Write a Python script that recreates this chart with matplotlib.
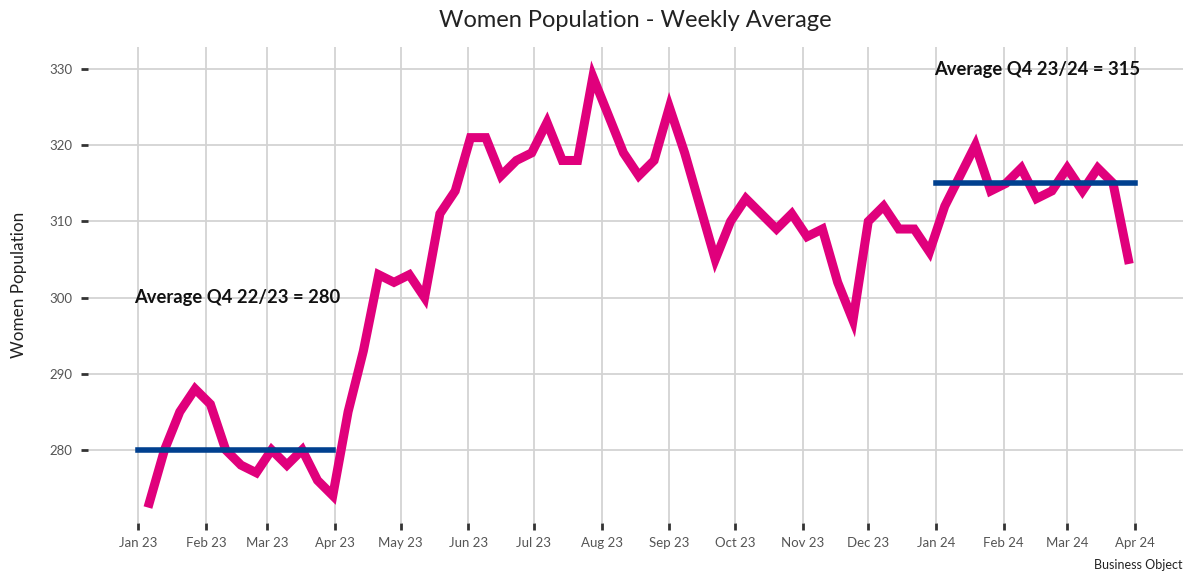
import matplotlib
matplotlib.use("Agg")
import matplotlib.pyplot as plt
import matplotlib.dates as mdates
import numpy as np
import pandas as pd

# ---- data ----
start_date = "2023-01-06"
women_pop = [273, 280, 285, 288, 286, 280, 278, 277, 280, 278, 280, 276, 274,
             285, 293, 303, 302, 303, 300, 311, 314, 321, 321, 316, 318, 319,
             323, 318, 318, 329, 324, 319, 316, 318, 325, 319, 312, 305, 310,
             313, 311, 309, 311, 308, 309, 302, 297, 310, 312, 309, 309, 306,
             312, 316, 320, 314, 315, 317, 313, 314, 317, 314, 317, 315, 305]
avg_periods = [("2023-01-01", "2023-03-31", 280), ("2024-01-01", "2024-04-01", 315)]
avg_labels = ["Average Q4 22/23 = 280", "Average Q4 23/24 = 315"]
avg_label_pos = [("2022-12-30", 300), ("2023-12-31", 330)]
tick_dates = pd.date_range("2023-01-01", "2024-04-01", freq="MS")
tick_labels = [d.strftime("%b %y") for d in tick_dates]
y_ticks = [280, 290, 300, 310, 320, 330]

dates = pd.date_range(start_date, periods=len(women_pop), freq="7D")

plt.rcParams['font.family'] = ['Lato', 'DejaVu Sans']

fig = plt.figure(figsize=(11.92, 5.72), dpi=100)
ax = fig.add_axes([88/1192, 1-523/572, (1183-88)/1192, (523-47)/572])

ax.plot(dates, women_pop, color="#e0007c", lw=6.5, solid_joinstyle="miter", zorder=3)
for (s, e, v) in avg_periods:
    ax.plot([pd.Timestamp(s), pd.Timestamp(e)], [v, v], color="#00408f", lw=4, zorder=4)
for lab, (d, v) in zip(avg_labels, avg_label_pos):
    ax.text(pd.Timestamp(d), v, lab, fontsize=13.2, fontweight="bold", color="#111111",
            ha="left", va="center", zorder=5)

ax.set_xlim(pd.Timestamp("2022-12-09"), pd.Timestamp("2024-04-23"))
ax.set_ylim(270.4, 332.9)
ax.set_xticks(tick_dates)
ax.set_xticklabels(tick_labels)
ax.set_yticks(y_ticks)
ax.grid(True, color="#d3d3d3", lw=1.3)
ax.set_axisbelow(True)
for s in ax.spines.values():
    s.set_visible(False)
ax.tick_params(axis="both", length=5, width=2, color="#333333", labelcolor="#555555",
               labelsize=9.5)
ax.tick_params(axis="x", pad=5)
ax.tick_params(axis="y", pad=6)

ax.set_ylabel("Women Population", fontsize=12.3, color="#222222", labelpad=16)
fig.text(0.533, 0.965, "Women Population - Weekly Average", fontsize=17,
         color="#222222", ha="center", va="center")
fig.text(0.992, 0.013, "Business Object", fontsize=9, color="#222222", ha="right", va="center")

fig.savefig("out.png", dpi=100)
